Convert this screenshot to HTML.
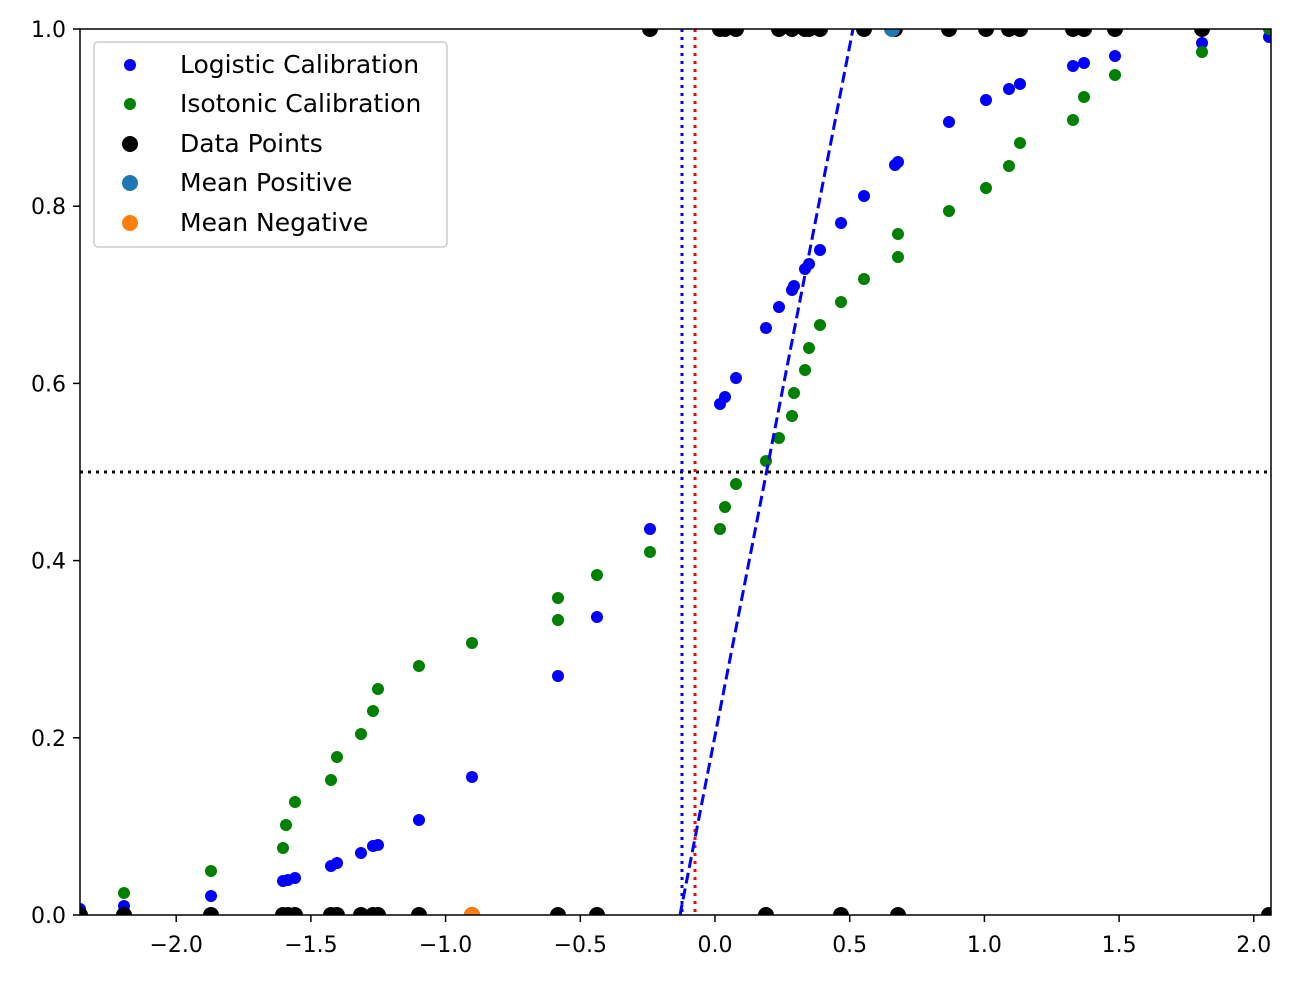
<!DOCTYPE html>
<html><head><meta charset="utf-8"><style>
html,body{margin:0;padding:0;background:#fff;}
svg text{font-family:"DejaVu Sans","Liberation Sans",sans-serif;}
</style></head><body>
<svg id="s" width="1293" height="980" xmlns="http://www.w3.org/2000/svg">
<defs><clipPath id="cp"><rect x="80" y="29" width="1191" height="886"/></clipPath></defs>
<rect x="0" y="0" width="1293" height="980" fill="#fff"/>
<g clip-path="url(#cp)">
<g id="pts"></g>
<line x1="80" y1="472" x2="1271" y2="472" stroke="#000" stroke-width="3" stroke-dasharray="3,5"/>
<line x1="682" y1="29" x2="682" y2="915" stroke="#00f" stroke-width="3" stroke-dasharray="3,5"/>
<line x1="695" y1="29" x2="695" y2="915" stroke="#f00" stroke-width="3" stroke-dasharray="3,5"/>
<line x1="680" y1="915" x2="853" y2="29" stroke="#00f" stroke-width="3" stroke-dasharray="11,5"/>
</g>
<rect x="80" y="29" width="1191" height="886" fill="none" stroke="#000" stroke-width="1.5"/>
<g id="ticks" font-size="22" fill="#000"></g>
<rect x="94" y="42" width="353" height="205" rx="4" fill="#fff" fill-opacity="0.8" stroke="#ccc" stroke-width="1.5"/>
<g font-size="25" fill="#000">
<circle cx="130" cy="65" r="6" fill="#00f"/><text x="180" y="73">Logistic Calibration</text>
<circle cx="130" cy="104" r="6" fill="#008000"/><text x="180" y="112">Isotonic Calibration</text>
<circle cx="130" cy="144" r="8" fill="#000"/><text x="180" y="152">Data Points</text>
<circle cx="130" cy="183" r="8" fill="#1f77b4"/><text x="180" y="191">Mean Positive</text>
<circle cx="130" cy="223" r="8" fill="#ff7f0e"/><text x="180" y="231">Mean Negative</text>
</g>
</svg>
<script>
var NS="http://www.w3.org/2000/svg",g=document.getElementById('pts');
function c(x,y,r,f){var e=document.createElementNS(NS,'circle');e.setAttribute('cx',x);e.setAttribute('cy',y);e.setAttribute('r',r);e.setAttribute('fill',f);g.appendChild(e);}
var blue=[[80,909],[124,906],[211,896],[283,881],[288,880],[295,878],[331,866],[337,863],[361,853],[373,846],[378,845],[419,820],[472,777],[558,676],[597,617],[650,529],[720,404],[725,397],[736,378],[766,328],[779,307],[792,290],[794,286],[805,269],[809,264],[820,250],[841,223],[864,196],[895,165],[898,162],[949,122],[986,100],[1009,89],[1020,84],[1073,66],[1084,63],[1115,56],[1202,43],[1269,37]];
var green=[[124,893],[211,871],[283,848],[286,825],[295,802],[331,780],[337,757],[361,734],[373,711],[378,689],[419,666],[472,643],[558,620],[558,598],[597,575],[650,552],[720,529],[725,507],[736,484],[766,461],[779,438],[792,416],[794,393],[805,370],[809,348],[820,325],[841,302],[864,279],[898,257],[898,234],[949,211],[986,188],[1009,166],[1020,143],[1073,120],[1084,97],[1115,75],[1202,52],[1269,29]];
blue.forEach(p=>c(p[0],p[1],6,'#00f'));
green.forEach(p=>c(p[0],p[1],6,'#008000'));
[80,124,211,283,288,295,331,337,361,373,378,419,472,558,597,766,841,898,1269].forEach(x=>c(x,915,8,'#000'));
[650,720,725,736,779,792,805,809,820,864,895,949,986,1009,1020,1073,1084,1115,1202].forEach(x=>c(x,29,8,'#000'));
c(892,29,8,'#1f77b4');c(472,915,8,'#ff7f0e');
var t=document.getElementById('ticks');
function txt(x,y,s,a){var e=document.createElementNS(NS,'text');e.setAttribute('x',x);e.setAttribute('y',y);e.setAttribute('text-anchor',a);e.textContent=s;t.appendChild(e);}
function ln(x1,y1,x2,y2){var e=document.createElementNS(NS,'line');e.setAttribute('x1',x1);e.setAttribute('y1',y1);e.setAttribute('x2',x2);e.setAttribute('y2',y2);e.setAttribute('stroke','#000');e.setAttribute('stroke-width','1.5');t.appendChild(e);}
for(var i=0;i<=5;i++){var y=915-i*0.2*886;ln(73,y,80,y);txt(66,y+8,(i*0.2).toFixed(1),'end');}
for(var v=-2;v<=2.01;v+=0.5){var x=715+v*269.4;ln(x,915,x,922);txt(x,952,(v<0?'\u2212':'')+Math.abs(v).toFixed(1),'middle');}
</script>
</body></html>
